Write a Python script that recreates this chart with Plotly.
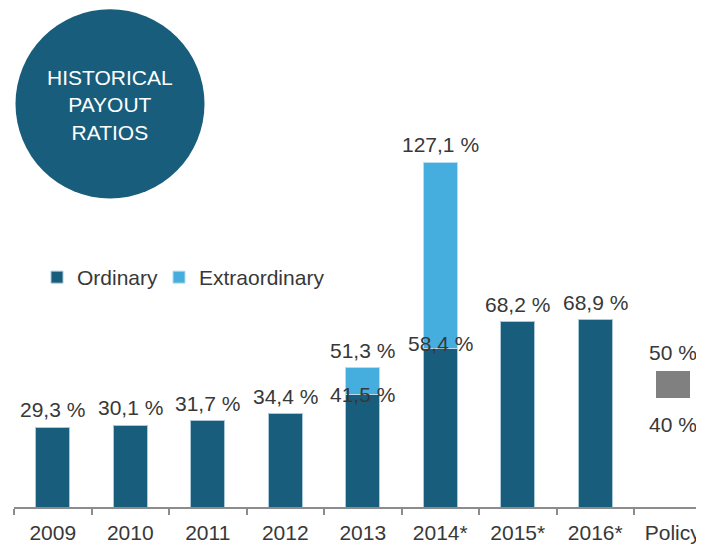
import plotly.graph_objects as go

categories = ["2009", "2010", "2011", "2012", "2013", "2014*", "2015*", "2016*", "Policy"]
ordinary = [29.3, 30.1, 31.7, 34.4, 41.5, 58.4, 68.2, 68.9, None]
totals = [None, None, None, None, 51.3, 127.1, None, None, None]
extraordinary = [None if t is None else round(t - o, 1) for t, o in zip(totals, ordinary)]
policy_low = 40
policy_high = 50

DARK = "#185D7C"
LIGHT = "#45AEDF"
GREY = "#808080"
TXT = "#383838"
FONT = "Liberation Sans, Arial, sans-serif"
FS = 21

# figure is drawn with an 8px page offset (browser body margin)
W, H = 696, 537
ML, MB = 6, 38
PW, PH = W - ML, H - MB
PX_PER_UNIT = 345 / 127.1
PITCH = 77.5


def fmt(v):
    return f"{v:.1f}".replace(".", ",") + " %"


def px(fx):
    return (fx - ML) / PW


def py(fy):
    return (PH - fy) / PH


fig = go.Figure()
fig.add_trace(go.Bar(x=categories, y=ordinary, name="Ordinary", legend="legend",
                     marker=dict(color=DARK, line=dict(color="#a9c9d8", width=1)), width=0.44))
fig.add_trace(go.Bar(x=categories, y=extraordinary, name="Extraordinary", legend="legend2",
                     marker=dict(color=LIGHT, line=dict(color="#b5dcef", width=1)), width=0.44))
fig.add_trace(go.Bar(x=["Policy"], y=[policy_high - policy_low], base=[policy_low],
                     marker=dict(color=GREY, line=dict(width=0)), width=0.44, showlegend=False))

ann = []
for i, (o, t) in enumerate(zip(ordinary, totals)):
    if o is None:
        continue
    if t is None:
        ann.append(dict(x=i, y=o, text=fmt(o), yanchor="bottom", yshift=4))
    else:
        ann.append(dict(x=i, y=o, text=fmt(o), yanchor="middle", yshift=(5 if o > 50 else 0)))
        ann.append(dict(x=i, y=t, text=fmt(t), yanchor="bottom", yshift=4))
pi = categories.index("Policy")
ann.append(dict(x=pi, y=policy_high, text=f"{policy_high} %", yanchor="bottom", yshift=5))
ann.append(dict(x=pi, y=policy_low, text=f"{policy_low} %", yanchor="top", yshift=-13))
for a in ann:
    a.update(showarrow=False, xanchor="center", font=dict(size=FS, color=TXT, family=FONT))

ann.append(dict(xref="paper", yref="paper", x=px(102), y=py(97), xanchor="center", yanchor="middle",
                text="HISTORICAL<br>PAYOUT<br>RATIOS", showarrow=False,
                font=dict(size=FS, color="white", family=FONT), align="center"))

legend_style = dict(orientation="h", yanchor="middle", xanchor="left",
                    font=dict(size=FS, color=TXT), bgcolor="rgba(0,0,0,0)", itemwidth=30)

fig.update_layout(
    annotations=ann,
    barmode="stack",
    width=W, height=H,
    margin=dict(l=ML, r=0, t=0, b=MB, autoexpand=False),
    paper_bgcolor="white", plot_bgcolor="white",
    font=dict(family=FONT, color=TXT, size=FS),
    shapes=[dict(type="circle", xref="paper", yref="paper",
                 x0=px(7.5), x1=px(196.5), y0=py(190.5), y1=py(1.3),
                 fillcolor=DARK, line=dict(width=0), layer="below")],
    legend=dict(x=px(29), y=py(269.5), **legend_style),
    legend2=dict(x=px(151), y=py(269.5), **legend_style),
    xaxis=dict(type="category", range=[-0.5, -0.5 + PW / PITCH], showline=True, linecolor="#8c8c8c", linewidth=2,
               ticks="outside", tickson="boundaries", ticklen=6, tickcolor="#8c8c8c", tickwidth=2,
               ticklabelstandoff=6,
               tickfont=dict(size=FS, color=TXT), showgrid=False, fixedrange=True),
    yaxis=dict(range=[0, PH / PX_PER_UNIT], visible=False, showgrid=False, zeroline=False),
)
fig.write_html("out.html")
